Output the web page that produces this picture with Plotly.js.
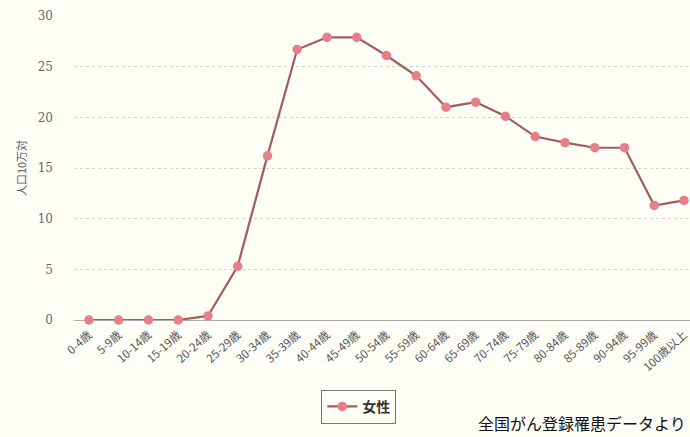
<!DOCTYPE html>
<html><head><meta charset="utf-8">
<script src="https://cdn.plot.ly/plotly-3.0.1.min.js"></script>
<style>html,body{margin:0;padding:0;background:#fefef7;}</style>
</head><body>
<div id="chart" style="width:690px;height:437px;"></div>
<script>
const ageGroups = ["0-4歳","5-9歳","10-14歳","15-19歳","20-24歳","25-29歳","30-34歳","35-39歳","40-44歳","45-49歳","50-54歳","55-59歳","60-64歳","65-69歳","70-74歳","75-79歳","80-84歳","85-89歳","90-94歳","95-99歳","100歳以上"];
const female = [0,0,0,0,0.4,5.3,16.2,26.7,27.9,27.9,26.1,24.1,21.0,21.5,20.1,18.1,17.5,17.0,17.0,11.3,11.8];
const seriesName = "女性";
const yTicks = [0,5,10,15,20,25,30];
const sourceText = "全国がん登録罹患データより";
const yTitle = "人口10万対";

const trace = {
  x: ageGroups, y: female, name: seriesName, type: 'scatter', mode: 'lines+markers',
  line: {color: '#a05c60', width: 2.2},
  marker: {color: '#e5808a', size: 9.5},
  cliponaxis: false, showlegend: true
};
const layout = {
  width: 690, height: 437,
  paper_bgcolor: '#fefef7', plot_bgcolor: '#fefef7',
  margin: {l: 74, r: 0, t: 16, b: 117},
  font: {family: 'DejaVu Sans, Noto Sans CJK JP', color: '#555'},
  xaxis: {
    type: 'category', range: [-0.5, 20.2], tickangle: -42,
    tickmode: 'array', tickvals: ageGroups, ticktext: ageGroups,
    tickfont: {size: 11.5, color: '#555', family: 'Noto Sans CJK JP'},
    showgrid: false, zeroline: false, showline: false, ticks: '', ticklen: 0,
    ticklabelstandoff: 5, automargin: false
  },
  yaxis: {
    range: [0, 30], tickvals: yTicks, ticktext: yTicks.map(String),
    tickfont: {size: 12, color: '#666', family: 'DejaVu Serif'},
    showgrid: true, gridcolor: '#d2d2d2', griddash: 'dot', gridwidth: 1,
    zeroline: true, zerolinecolor: '#aaa', zerolinewidth: 1,
    ticklabelstandoff: 20, automargin: false,
    title: {text: yTitle, font: {size: 11, color: '#555', family: 'Noto Sans CJK JP'}, standoff: 8}
  },
  legend: {
    orientation: 'h',
    xref: 'container', yref: 'container', x: 0.52, y: 0.069,
    xanchor: 'center', yanchor: 'middle',
    bordercolor: '#777', borderwidth: 1, bgcolor: '#fefef7',
    font: {size: 14, color: '#333', family: 'Noto Sans CJK JP', weight: 'bold'}
  },
  annotations: [{
    text: sourceText, xref: 'paper', yref: 'paper', x: 1, y: -0.34, xshift: -2,
    xanchor: 'right', yanchor: 'middle', showarrow: false,
    font: {size: 16, color: '#111', family: 'Noto Sans CJK JP'}
  }]
};
Plotly.newPlot('chart', [trace], layout, {displayModeBar: false, staticPlot: true});
</script>
</body></html>
